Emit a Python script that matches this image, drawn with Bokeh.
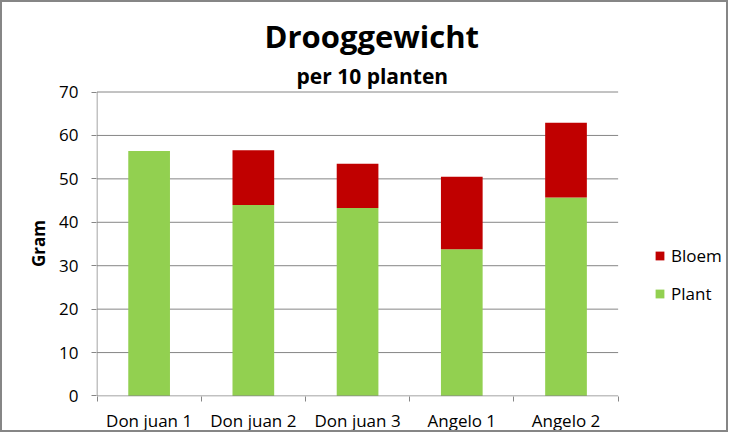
from bokeh.plotting import figure
from bokeh.models import (ColumnDataSource, Range1d, FixedTicker, Title, Legend,
                          LegendItem)
from bokeh.embed import file_html
from bokeh.resources import INLINE

# ---- data ----
categories = ["Don juan 1", "Don juan 2", "Don juan 3", "Angelo 1", "Angelo 2"]
plant = [56.4, 44.0, 43.3, 33.8, 45.7]
bloem = [0.0, 12.6, 10.2, 16.7, 17.2]
y_ticks = [0, 10, 20, 30, 40, 50, 60, 70]
title_text = "Drooggewicht"
subtitle_text = "per 10 planten"
y_label = "Gram"

GREEN = "#92D050"
RED = "#C00000"
GRAY = "#868686"
FONT = "Open Sans"

n = len(categories)
ymax = y_ticks[-1]
xpos = [i + 0.5 for i in range(n)]
src = ColumnDataSource(dict(x=xpos, Plant=plant, Bloem=bloem))

# pixel scale of the plotting area (517 px for 5 categories, 301 px for 0..70)
PX_X = 517 / n
PX_Y = 301 / ymax

p = figure(width=728, height=432, output_backend="svg", toolbar_location=None,
           x_range=Range1d(-0.5 / PX_X, (724 - 97.5) / PX_X),
           y_range=Range1d(-0.5 / PX_Y, (394.5 - 92) / PX_Y),
           min_border_left=94, min_border_right=2, min_border_top=88,
           min_border_bottom=37)
p.title.visible = False
p.styles = {"border": "2px solid " + GRAY, "box-sizing": "border-box"}
p.outline_line_color = None
p.background_fill_color = "white"
p.border_fill_color = "white"

# gridlines and axis lines restricted to the category area
grid_y = y_ticks[1:]
p.segment(x0=[0] * len(grid_y), x1=[n] * len(grid_y), y0=grid_y, y1=grid_y,
          line_color=GRAY, line_width=1)

rs = p.vbar_stack(["Plant", "Bloem"], x="x", width=0.4, source=src,
                  color=[GREEN, RED], line_color=None)

p.segment(x0=[0, 0], x1=[n, 0], y0=[0, 0], y1=[0, ymax],
          line_color=GRAY, line_width=1)

# x axis: labels at centres, small ticks at boundaries
p.xaxis.ticker = FixedTicker(ticks=xpos, minor_ticks=list(range(n + 1)))
p.xaxis.major_label_overrides = {x: c for x, c in zip(xpos, categories)}
p.xaxis.major_tick_out = 0
p.xaxis.major_tick_in = 0
p.xaxis.minor_tick_out = 5
p.xaxis.minor_tick_in = 0
p.xaxis.minor_tick_line_color = GRAY
p.xaxis.axis_line_color = None
p.xaxis.major_label_text_font = FONT
p.xaxis.major_label_text_font_size = "17px"
p.xaxis.major_label_text_color = "black"
p.xaxis.major_label_standoff = 7

p.yaxis.ticker = FixedTicker(ticks=y_ticks)
p.yaxis.minor_tick_line_color = None
p.yaxis.major_tick_out = 5
p.yaxis.major_tick_in = 0
p.yaxis.major_tick_line_color = GRAY
p.yaxis.axis_line_color = None
p.yaxis.major_label_text_font = FONT
p.yaxis.major_label_text_font_size = "17px"
p.yaxis.major_label_text_color = "black"
p.yaxis.major_label_standoff = 13
p.yaxis.axis_label = y_label
p.yaxis.axis_label_text_font = FONT
p.yaxis.axis_label_text_font_size = "17px"
p.yaxis.axis_label_text_font_style = "bold"
p.yaxis.axis_label_text_color = "black"
p.yaxis.axis_label_standoff = 6

p.xgrid.grid_line_color = None
p.ygrid.grid_line_color = None

# titles placed over the category area (frame is wider, to hold the legend)
sub = Title(text=subtitle_text, align="left", offset=200,
            standoff=1, text_font=FONT, text_font_size="21px",
            text_font_style="bold", text_color="black")
p.add_layout(sub, "above")
main = Title(text=title_text, align="left", offset=168,
             standoff=6, text_font=FONT, text_font_size="31px",
             text_font_style="bold", text_color="black")
p.add_layout(main, "above")

legend = Legend(items=[LegendItem(label="Bloem", renderers=[rs[1]]),
                       LegendItem(label="Plant", renderers=[rs[0]])],
                location=(558, 91), orientation="vertical")
legend.glyph_width = 11
legend.glyph_height = 11
legend.label_height = 20
legend.spacing = 15
legend.padding = 0
legend.margin = 0
legend.label_standoff = 6
legend.border_line_color = None
legend.background_fill_alpha = 0
legend.label_text_font = FONT
legend.label_text_font_size = "17px"
legend.label_text_color = "black"
p.add_layout(legend, "center")

open("out.html", "w").write(file_html(p, INLINE))
